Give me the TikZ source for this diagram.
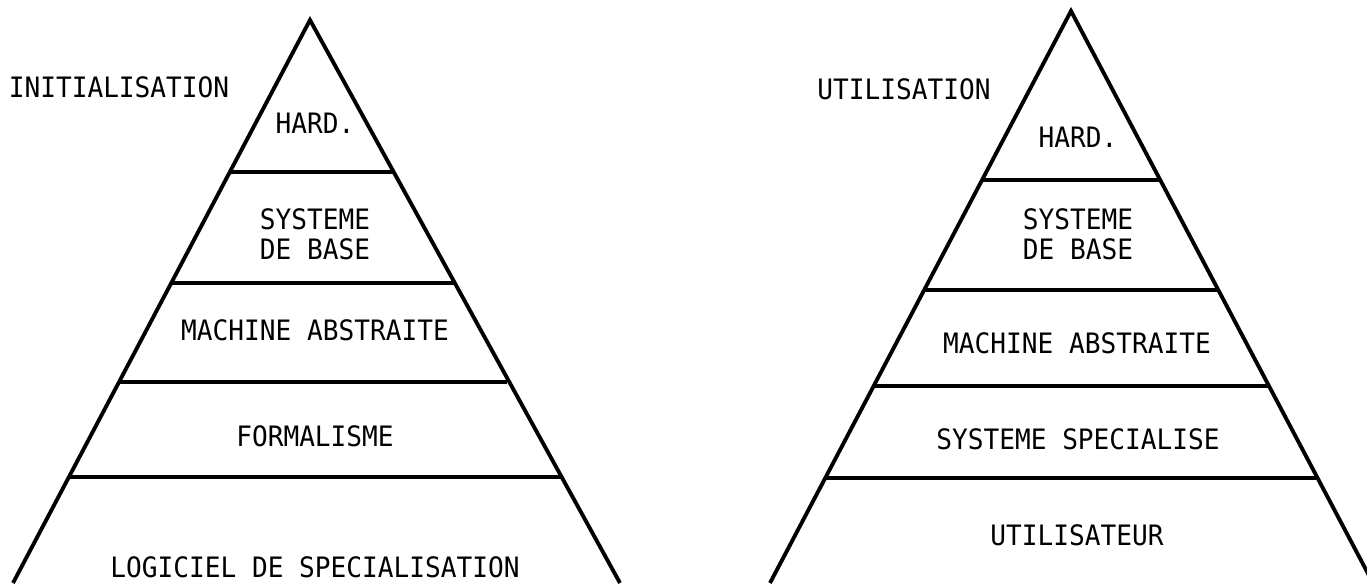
\documentclass[tikz,border=0pt]{standalone}
\usepackage{fontspec}
\newfontfamily\tapefont[FakeStretch=0.93]{DejaVu Sans Mono}
\begin{document}
\begin{tikzpicture}[x=0.02cm,y=-0.02cm,
  edge/.style={line width=2.2pt,line join=miter},
  layer/.style={line width=1.9pt},
  lbl/.style={font=\tapefont\fontsize{16}{17}\selectfont,inner sep=0pt,align=center}]
\useasboundingbox (0,0) rectangle (1367,583);

%Initialisation
\draw[edge] (13,583) -- (310,20) -- (620,583);
\draw[layer] (230,172) -- (394,172);
\draw[layer] (171,283) -- (455,283);
\draw[layer] (119,382) -- (507,382);
\draw[layer] (68,477) -- (562,477);
\node[lbl] (linit) at (119,87) {INITIALISATION};
\node[lbl] (lhard) at (315,123) {HARD.};
\node[lbl] (lbase) at (315,234) {SYSTEME\\DE BASE};
\node[lbl] (lmach) at (315,330) {MACHINE ABSTRAITE};
\node[lbl] (lform) at (315,436) {FORMALISME};
\node[lbl] (llogi) at (315,567) {LOGICIEL DE SPECIALISATION};

%Utilisation
\draw[edge] (770,583) -- (1071,11) -- (1373,583);
\draw[layer] (982,180) -- (1161,180);
\draw[layer] (924,290) -- (1218,290);
\draw[layer] (874,386) -- (1269,386);
\draw[layer] (824,478) -- (1316,478);
\node[lbl] (rutil) at (904,89) {UTILISATION};
\node[lbl] (rhard) at (1078,137) {HARD.};
\node[lbl] (rbase) at (1078,234) {SYSTEME\\DE BASE};
\node[lbl] (rmach) at (1077,343) {MACHINE ABSTRAITE};
\node[lbl] (rspec) at (1078,439) {SYSTEME SPECIALISE};
\node[lbl] (ruser) at (1077,535) {UTILISATEUR};

\end{tikzpicture}
\end{document}
